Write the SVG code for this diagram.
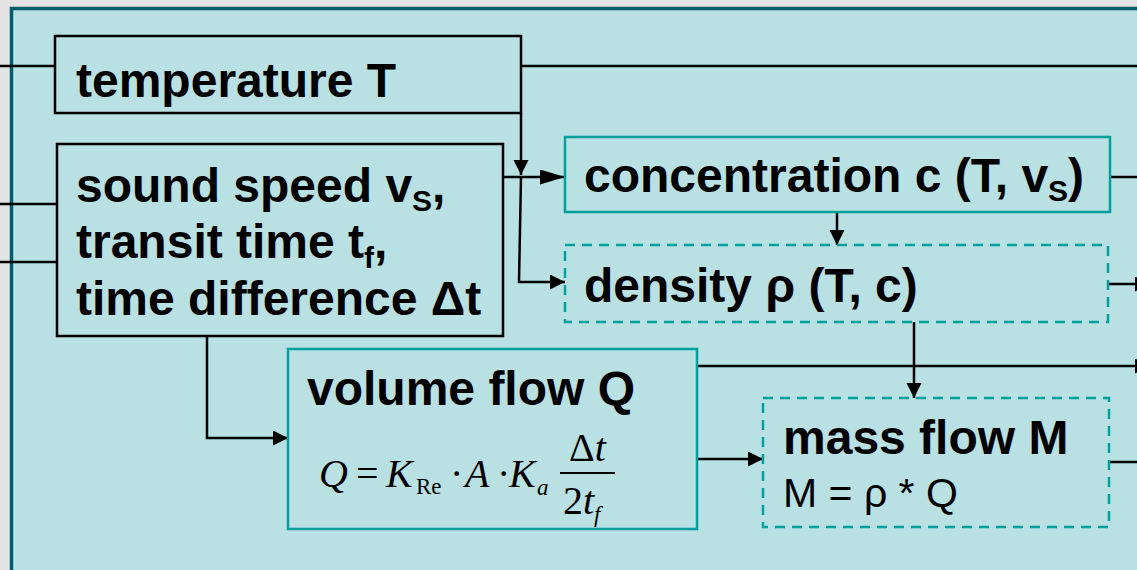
<svg xmlns="http://www.w3.org/2000/svg" width="1137" height="570" viewBox="0 0 1137 570">
<style>
.t{font-family:"Liberation Sans",Arial,sans-serif;font-weight:bold;font-size:48px;fill:#000}
.r{font-family:"Liberation Sans",Arial,sans-serif;font-size:41px;fill:#000}
.m{font-family:"Liberation Serif","Times New Roman",serif;font-size:40px;fill:#000}
.s{font-family:"Liberation Serif","Times New Roman",serif;font-size:23px;fill:#000}
.bk{fill:none;stroke:#000;stroke-width:2.5}
.tl{fill:none;stroke:#00a09c;stroke-width:2.5}
.td{fill:none;stroke:#00a09c;stroke-width:2.5;stroke-dasharray:10 7}
.ln{fill:none;stroke:#000;stroke-width:2.5}
</style>
<defs>
<marker id="a" markerUnits="userSpaceOnUse" markerWidth="16" markerHeight="16" refX="15" refY="7.5" orient="auto"><path d="M0,0 L15,7.5 L0,15 z" fill="#000"/></marker>
<marker id="al" markerUnits="userSpaceOnUse" markerWidth="26" markerHeight="16" refX="25" refY="7.5" orient="auto"><path d="M0,0 L25,7.5 L0,15 z" fill="#000"/></marker>
</defs>
<rect x="0" y="0" width="1137" height="570" fill="#e3e3e3"/>
<rect x="11.5" y="8.5" width="1200" height="700" fill="#b9e0e3" stroke="#005e6c" stroke-width="3.5"/>

<g id="connectors">
<path class="ln" d="M0,66 H55"/>
<path class="ln" d="M521,66 H1137"/>
<path class="ln" d="M0,204 H57"/>
<path class="ln" d="M0,262 H57"/>
<path class="ln" d="M521,113 V175" marker-end="url(#a)"/>
<path class="ln" d="M503,177 H565" marker-end="url(#al)"/>
<path class="ln" d="M521,177 L519,282 H565" marker-end="url(#a)"/>
<path class="ln" d="M207,336 V438 H288" marker-end="url(#a)"/>
<path class="ln" d="M837,212 V245" marker-end="url(#a)"/>
<path class="ln" d="M914,322 V398" marker-end="url(#a)"/>
<path class="ln" d="M697,459 H763" marker-end="url(#a)"/>
<path class="ln" d="M1110,177 H1137"/>
<path class="ln" d="M1108,284 H1150" marker-end="url(#a)"/>
<path class="ln" d="M697,366 H1150" marker-end="url(#a)"/>
<path class="ln" d="M1109,462 H1137"/>
</g>

<g id="temperature">
<rect class="bk" x="55" y="36" width="466" height="77"/>
<text class="t" x="76" y="97">temperature T</text>
</g>

<g id="sound">
<rect class="bk" x="57" y="144" width="446" height="192"/>
<text class="t" x="76" y="202">sound speed v<tspan font-size="30" dy="9">S</tspan><tspan dy="-9">,</tspan></text>
<text class="t" x="76" y="258">transit time t<tspan font-size="30" dy="10">f</tspan><tspan dy="-10">,</tspan></text>
<text class="t" x="76" y="315">time difference Δt</text>
</g>

<g id="concentration">
<rect class="tl" x="565" y="137" width="545" height="75"/>
<text class="t" x="584" y="192">concentration c (T, v<tspan font-size="30" dy="9">S</tspan><tspan dy="-9">)</tspan></text>
</g>

<g id="density">
<rect class="td" x="565" y="245" width="543" height="77"/>
<text class="t" x="584" y="302">density ρ (T, c)</text>
</g>

<g id="volume">
<rect class="tl" x="288" y="349" width="409" height="180"/>
<text class="t" x="307" y="405">volume flow Q</text>
<text class="m" x="319" y="487" font-style="italic">Q</text>
<text class="m" x="356" y="487">=</text>
<text class="m" x="386" y="487" font-style="italic">K</text>
<text class="s" x="416" y="494">Re</text>
<text class="m" x="450" y="487">·</text>
<text class="m" x="465" y="487" font-style="italic">A</text>
<text class="m" x="497" y="487">·</text>
<text class="m" x="509" y="487" font-style="italic">K</text>
<text class="s" x="537" y="495" font-style="italic">a</text>
<path d="M560,473 H615" stroke="#000" stroke-width="2"/>
<text class="m" x="569" y="461">Δ<tspan font-style="italic">t</tspan></text>
<text class="m" x="563" y="514">2<tspan font-style="italic">t</tspan></text>
<text class="s" x="594" y="522" font-style="italic">f</text>
</g>

<g id="mass">
<rect class="td" x="763" y="398" width="346" height="129"/>
<text class="t" x="783" y="454">mass flow M</text>
<text class="r" x="783" y="507">M = ρ * Q</text>
</g>
</svg>
